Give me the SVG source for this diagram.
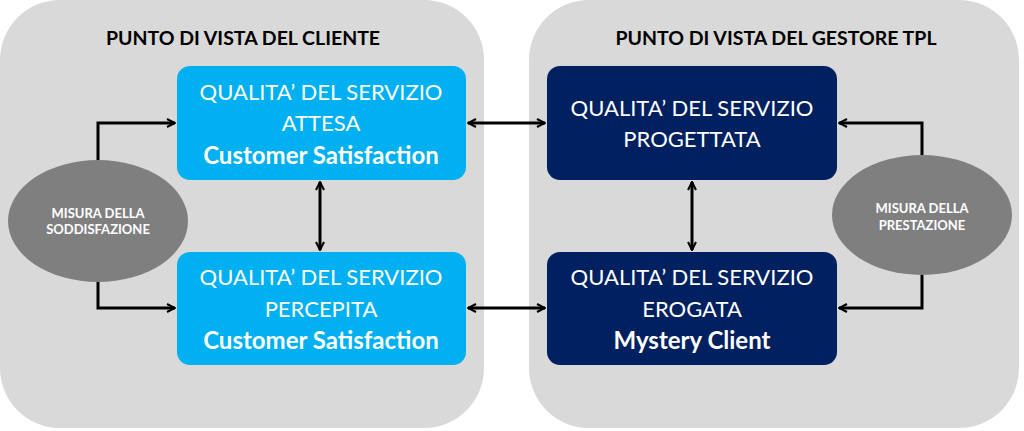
<svg xmlns="http://www.w3.org/2000/svg" width="1024" height="431" viewBox="0 0 1024 431">
<defs>
<marker id="ah" viewBox="0 0 10 10" refX="9" refY="5" markerWidth="10" markerHeight="10" markerUnits="userSpaceOnUse" orient="auto-start-reverse">
<path d="M1,1 L9,5 L1,9" fill="none" stroke="#000" stroke-width="2"/>
</marker>
</defs>
<style>
.panel{fill:#D9D9D9}
.lb{fill:#00B0F0}
.db{fill:#002060}
.ell{fill:#7F7F7F}
.t{font-family:Lato,"Open Sans",sans-serif;fill:#fff;text-anchor:middle}
.n{font-size:22px}
.b{font-size:24px;font-weight:bold}
.h{font-family:Lato,"Open Sans",sans-serif;font-weight:bold;font-size:19.5px;fill:#000;text-anchor:middle}
.s{font-size:13px;font-weight:bold}
.c{fill:none;stroke:#000;stroke-width:3}
</style>
<g id="panel-cliente">
<rect class="panel" x="0" y="0" width="484" height="428" rx="60"/>
<text class="h" x="243" y="45">PUNTO DI VISTA DEL CLIENTE</text>
</g>
<g id="panel-gestore">
<rect class="panel" x="529" y="0" width="490" height="428" rx="60"/>
<text class="h" x="776" y="45">PUNTO DI VISTA DEL GESTORE TPL</text>
</g>
<g id="connectors">
<path class="c" d="M98,160 V123 H175" marker-end="url(#ah)"/>
<path class="c" d="M98,282 V308 H175" marker-end="url(#ah)"/>
<path class="c" d="M922,155 V123 H839" marker-end="url(#ah)"/>
<path class="c" d="M922,275 V308 H839" marker-end="url(#ah)"/>
<path class="c" d="M468,123 H545" marker-start="url(#ah)" marker-end="url(#ah)"/>
<path class="c" d="M468,308 H545" marker-start="url(#ah)" marker-end="url(#ah)"/>
<path class="c" d="M320,182 V250" marker-start="url(#ah)" marker-end="url(#ah)"/>
<path class="c" d="M692,182 V250" marker-start="url(#ah)" marker-end="url(#ah)"/>
</g>
<g id="attesa">
<rect class="lb" x="177" y="66" width="289" height="114" rx="13"/>
<text class="t n" x="321" y="100">QUALITA’ DEL SERVIZIO</text>
<text class="t n" x="321" y="131">ATTESA</text>
<text class="t b" x="321" y="164">Customer Satisfaction</text>
</g>
<g id="percepita">
<rect class="lb" x="177" y="252" width="289" height="113" rx="13"/>
<text class="t n" x="321" y="285">QUALITA’ DEL SERVIZIO</text>
<text class="t n" x="321" y="317">PERCEPITA</text>
<text class="t b" x="321" y="349">Customer Satisfaction</text>
</g>
<g id="progettata">
<rect class="db" x="547" y="66" width="290" height="114" rx="13"/>
<text class="t n" x="692" y="116">QUALITA’ DEL SERVIZIO</text>
<text class="t n" x="692" y="147">PROGETTATA</text>
</g>
<g id="erogata">
<rect class="db" x="547" y="252" width="290" height="113" rx="13"/>
<text class="t n" x="692" y="285">QUALITA’ DEL SERVIZIO</text>
<text class="t n" x="692" y="317">EROGATA</text>
<text class="t b" x="692" y="349">Mystery Client</text>
</g>
<g id="misura-soddisfazione">
<ellipse class="ell" cx="98" cy="221" rx="90" ry="61"/>
<text class="t s" x="98" y="218">MISURA DELLA</text>
<text class="t s" x="98" y="234">SODDISFAZIONE</text>
</g>
<g id="misura-prestazione">
<ellipse class="ell" cx="922" cy="215" rx="90" ry="60"/>
<text class="t s" x="922" y="213">MISURA DELLA</text>
<text class="t s" x="922" y="230">PRESTAZIONE</text>
</g>
</svg>
